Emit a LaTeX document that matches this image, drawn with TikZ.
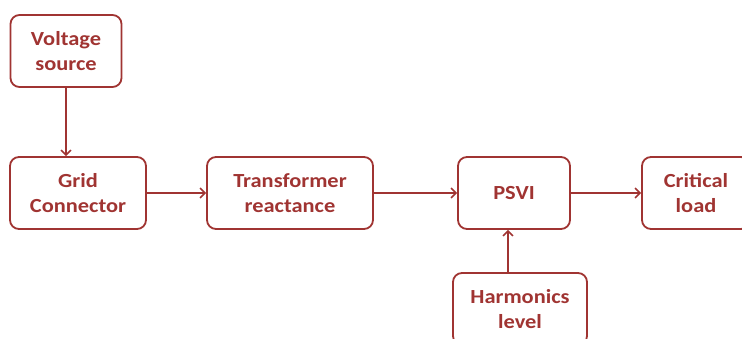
\documentclass[tikz,border=0pt]{standalone}
\usepackage{fontspec}
\setmainfont[FakeStretch=1.12]{Carlito}
\usetikzlibrary{arrows.meta}
\definecolor{dred}{RGB}{160,52,50}
\begin{document}
\begin{tikzpicture}[x=1pt,y=-1pt,
  blk/.style={draw=dred,line width=1.8pt,rounded corners=9pt,text=dred,
    font=\fontsize{20}{24.5}\selectfont\bfseries,align=center,inner sep=0pt},
  conn/.style={draw=dred,line width=1.8pt,-{Straight Barb[length=5pt,width=10pt,line width=1.5pt]}}]
\useasboundingbox (0,0) rectangle (742,338);
\clip (0,0) rectangle (742,338);
\node[blk,minimum width=111pt,minimum height=72pt] (vs) at (66,51) {Voltage\\source};
\node[blk,minimum width=136pt,minimum height=72pt] (gc) at (78,193) {Grid\\Connector};
\node[blk,minimum width=166pt,minimum height=72pt] (tr) at (290,193) {Transformer\\reactance};
\node[blk,minimum width=112pt,minimum height=72pt] (ps) at (514,193) {PSVI};
\node[blk,minimum width=108pt,minimum height=72pt] (cl) at (696,193) {Critical\\load};
\node[blk,minimum width=134pt,minimum height=72pt] (hl) at (520,309) {Harmonics\\level};
\draw[conn] (vs.south) -- (vs.south |- gc.north);
\draw[conn] (gc.east) -- (tr.west);
\draw[conn] (tr.east) -- (ps.west);
\draw[conn] (ps.east) -- (cl.west);
\draw[conn] (hl.north -| 508,0) -- (508,0 |- ps.south);
\end{tikzpicture}
\end{document}
